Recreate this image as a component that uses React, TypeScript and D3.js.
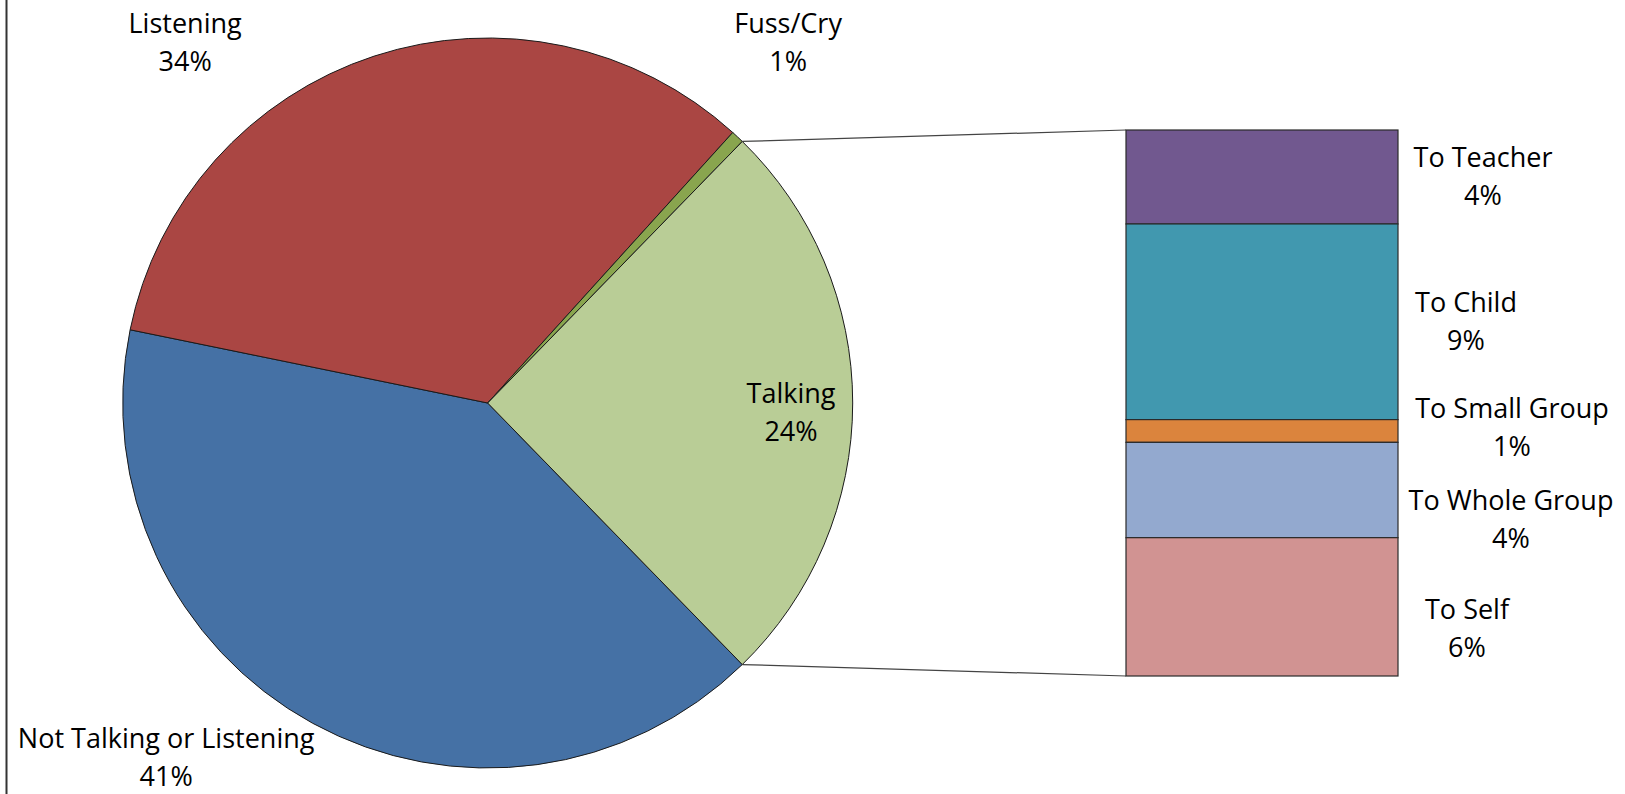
import React, { useEffect } from "react";
import * as d3 from "d3";

// ---- data ----
const primaryLabels = ["Not Talking or Listening", "Listening", "Fuss/Cry", "Talking"];
const primaryValues = [40.5, 33.5, 0.57, 25.43];
const primaryColors = ["#4571A5", "#AA4643", "#89A54E", "#B9CD96"];

const secondaryLabels = ["To Teacher", "To Child", "To Small Group", "To Whole Group", "To Self"];
const secondaryValues = [4.13, 8.6, 1.0, 4.19, 6.08];
const secondaryColors = ["#71588F", "#4198AF", "#DB843D", "#93A9CF", "#D19392"];

const W = 1625;
const H = 794;
const FONT = "'Open Sans', 'Noto Sans', sans-serif";
const FS = 27;
const LH = 38;

export default function App() {
  useEffect(() => {
    document.body.style.margin = "0";
  }, []);

  const cx = 487.7;
  const cy = 403;
  const r = 365;

  const total = d3.sum(primaryValues);
  const talkingFrac = primaryValues[3] / total;
  const start = Math.PI / 2 + talkingFrac * Math.PI;
  const pie = d3
    .pie<number>()
    .sort(null)
    .value((d) => d)
    .startAngle(start)
    .endAngle(start + 2 * Math.PI);
  const arcs = pie(primaryValues);
  const arcGen = d3.arc<d3.PieArcDatum<number>>().innerRadius(0).outerRadius(r);

  const talk = arcs[3];
  const pt = (a: number) => [cx + r * Math.sin(a), cy - r * Math.cos(a)];
  const [tx1, ty1] = pt(talk.startAngle);
  const [tx2, ty2] = pt(talk.endAngle);

  // bar of pie
  const barLeft = 1126;
  const barRight = 1398;
  const secTotal = d3.sum(secondaryValues);
  const y = d3.scaleLinear().domain([0, secTotal]).range([130, 676]);
  const cum = d3.cumsum(secondaryValues);
  const segs = secondaryValues.map((v, i) => ({
    v,
    y0: y(cum[i] - v),
    y1: y(cum[i]),
  }));

  const pct = (v: number) => `${Math.round(v)}%`;

  // pie label layout (fractions of radius relative to centre; first-line baseline)
  const pieLabelPos = [
    [-0.881, 0.946],
    [-0.829, -1.014],
    [0.823, -1.013],
    [0.831, 0.001],
  ];
  const pieLabelText = [
    pct(primaryValues[0]),
    pct(primaryValues[1]),
    pct(primaryValues[2]),
    pct(secTotal),
  ];

  // bar label layout: centre x and vertical nudge relative to segment centre
  const barLabelX = [1483, 1466, 1512, 1511, 1467];
  const barLabelNudge = [0, 0, -3, 29, 22];

  return (
    <svg
      width={W}
      height={H}
      style={{ position: "absolute", left: 0, top: 0, background: "#fff" }}
      fontFamily={FONT}
      fontSize={FS}
    >
      <rect x={0} y={0} width={W} height={H} fill="#fff" />
      <line x1={6.5} y1={0} x2={6.5} y2={H} stroke="#333" strokeWidth={2} />

      <g>
        {arcs.map((a, i) => (
          <path
            key={i}
            d={arcGen(a) as string}
            transform={`translate(${cx},${cy})`}
            fill={primaryColors[i]}
            stroke="#1a1a1a"
            strokeWidth={1}
            strokeLinejoin="round"
          />
        ))}
      </g>

      <line x1={tx1} y1={ty1} x2={barLeft} y2={y(0)} stroke="#444" strokeWidth={1.2} />
      <line x1={tx2} y1={ty2} x2={barLeft} y2={y(secTotal)} stroke="#444" strokeWidth={1.2} />

      <g>
        {segs.map((s, i) => (
          <rect
            key={i}
            x={barLeft}
            y={s.y0}
            width={barRight - barLeft}
            height={s.y1 - s.y0}
            fill={secondaryColors[i]}
            stroke="#2a2a2a"
            strokeWidth={1.2}
          />
        ))}
      </g>

      <g fill="#000" textAnchor="middle">
        {primaryLabels.map((lab, i) => {
          const x = cx + pieLabelPos[i][0] * r;
          const by = cy + pieLabelPos[i][1] * r;
          return (
            <text key={i} x={x} y={by}>
              <tspan x={x}>{lab}</tspan>
              <tspan x={x} dy={LH}>
                {pieLabelText[i]}
              </tspan>
            </text>
          );
        })}
      </g>

      <g fill="#000" textAnchor="middle">
        {secondaryLabels.map((lab, i) => {
          const mid = (segs[i].y0 + segs[i].y1) / 2 + barLabelNudge[i];
          const x = barLabelX[i];
          const by = mid - LH / 2 + 9.5;
          return (
            <text key={i} x={x} y={by}>
              <tspan x={x}>{lab}</tspan>
              <tspan x={x} dy={LH}>
                {pct(secondaryValues[i])}
              </tspan>
            </text>
          );
        })}
      </g>
    </svg>
  );
}
